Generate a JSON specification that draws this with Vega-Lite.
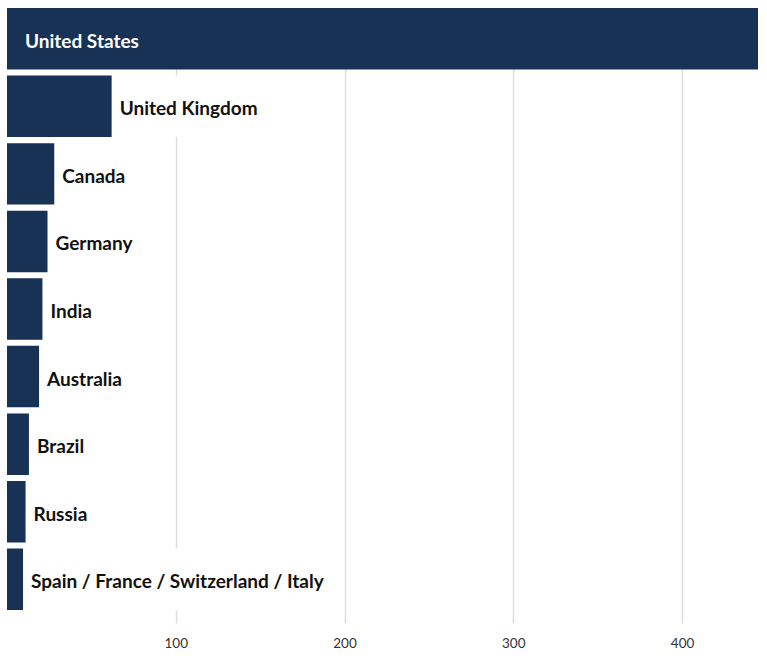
{
  "$schema": "https://vega.github.io/schema/vega-lite/v6.json",
  "width": 751,
  "height": 615,
  "autosize": {"type": "none"},
  "padding": {"left": 7, "top": 8, "right": 9, "bottom": 37},
  "background": "white",
  "config": {
    "view": {"stroke": null},
    "font": "Lato",
    "axis": {"domain": false, "ticks": false}
  },
  "data": {
    "values": [
      {"country": "United States", "value": 445},
      {"country": "United Kingdom", "value": 62},
      {"country": "Canada", "value": 28},
      {"country": "Germany", "value": 24},
      {"country": "India", "value": 21},
      {"country": "Australia", "value": 19},
      {"country": "Brazil", "value": 13},
      {"country": "Russia", "value": 11},
      {"country": "Spain / France / Switzerland / Italy", "value": 9.5}
    ]
  },
  "encoding": {
    "y": {
      "field": "country",
      "type": "nominal",
      "sort": ["United States", "United Kingdom", "Canada", "Germany", "India", "Australia", "Brazil", "Russia", "Spain / France / Switzerland / Italy"],
      "axis": null,
      "scale": {"paddingInner": 0.09, "paddingOuter": 0.096, "align": 0}
    }
  },
  "layer": [
    {
      "transform": [
        {"filter": "datum.value < 400"},
        {"calculate": "datum.value + (12 + length(datum.country) * 8.2) / 1.6876", "as": "maskEnd"}
      ],
      "mark": {"type": "bar", "color": "white"},
      "encoding": {
        "x": {
          "field": "value",
          "type": "quantitative",
          "scale": {"domain": [0, 445], "nice": false},
          "axis": {
            "values": [100, 200, 300, 400],
            "grid": true,
            "gridColor": "#dddddd",
            "gridWidth": 1.5,
            "labelFont": "Lato",
            "labelFontSize": 13.5,
            "labelColor": "#333333",
            "labelPadding": 13,
            "title": null
          }
        },
        "x2": {"field": "maskEnd"}
      }
    },
    {
      "mark": {"type": "bar", "color": "#173254"},
      "encoding": {
        "x": {"field": "value", "type": "quantitative"}
      }
    },
    {
      "transform": [{"filter": "datum.value < 400"}],
      "mark": {
        "type": "text",
        "align": "left",
        "baseline": "middle",
        "dx": 8,
        "dy": 3,
        "fontSize": 19,
        "fontWeight": "bold",
        "color": "#111111"
      },
      "encoding": {
        "x": {"field": "value", "type": "quantitative"},
        "text": {"field": "country"}
      }
    },
    {
      "transform": [{"filter": "datum.value >= 400"}],
      "mark": {
        "type": "text",
        "align": "left",
        "baseline": "middle",
        "dx": 18,
        "dy": 3,
        "fontSize": 19,
        "fontWeight": "bold",
        "color": "white"
      },
      "encoding": {
        "x": {"datum": 0, "type": "quantitative"},
        "text": {"field": "country"}
      }
    }
  ]
}
